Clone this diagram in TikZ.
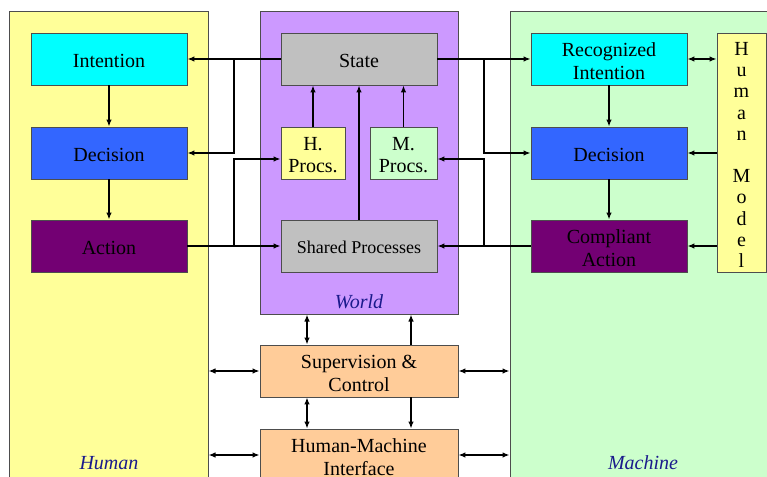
\documentclass[tikz,border=0pt]{standalone}
\usepackage{fontspec}
\setmainfont{Liberation Serif}
\usetikzlibrary{arrows.meta}
\definecolor{panelY}{HTML}{FFFF99}
\definecolor{panelV}{HTML}{CC99FF}
\definecolor{panelG}{HTML}{CCFFCC}
\definecolor{cyanB}{HTML}{00FFFF}
\definecolor{blueB}{HTML}{3366FF}
\definecolor{purpB}{HTML}{730073}
\definecolor{grayB}{HTML}{C0C0C0}
\definecolor{peachB}{HTML}{FFCC99}
\definecolor{labelC}{HTML}{1A1A8C}
\definecolor{edgeC}{HTML}{4D4D4D}
\tikzset{
  panel/.style={draw=edgeC, line width=1bp, inner sep=0pt},
  blk/.style={draw=edgeC, line width=0.9bp, inner sep=0pt, minimum width=156bp,
    minimum height=52bp, align=center, text depth=0bp, text height=18bp,
    font=\fontsize{20bp}{23.5bp}\selectfont},
  twoline/.style={text height=41.5bp},
  plabel/.style={text=labelC, font=\fontsize{20bp}{24bp}\selectfont\itshape},
  conn/.style={line width=1.3bp, -{Latex[length=7bp,width=5.5bp]}},
  bconn/.style={line width=1.3bp, {Latex[length=7bp,width=5.5bp]}-{Latex[length=7bp,width=5.5bp]}}
}
\begin{document}
\begin{tikzpicture}[x=1bp,y=-1bp]
\useasboundingbox (0,0) rectangle (767,477);
\fill[white] (0,0) rectangle (767,477);

% three panels
\node[panel, fill=panelY, minimum width=198bp, minimum height=473bp] (human) at (109,248.5) {};
\node[panel, fill=panelV, minimum width=198bp, minimum height=302bp] (world) at (359,163) {};
\node[panel, fill=panelG, minimum width=265bp, minimum height=473bp] (machine) at (642.5,248.5) {};

\node[plabel] (humanlbl) at (109,463) {Human};
\node[plabel] (worldlbl) at (359,302) {World};
\node[plabel] (machinelbl) at (643,463) {Machine};

% human side
\node[blk, fill=cyanB] (hint) at (109,59) {Intention};
\node[blk, fill=blueB] (hdec) at (109,153) {Decision};
\node[blk, fill=purpB] (hact) at (109,246) {Action};

% world
\node[blk, fill=grayB] (state) at (359,59) {State};
\node[blk, fill=panelY, minimum width=64bp, text height=40bp,
  font=\fontsize{20bp}{22bp}\selectfont] (hproc) at (313,153) {H.\\Procs.};
\node[blk, fill=panelG, minimum width=67bp, text height=40bp,
  font=\fontsize{20bp}{22bp}\selectfont] (mproc) at (403.5,153) {M.\\Procs.};
\node[blk, fill=grayB, text height=16bp, font=\fontsize{18bp}{22bp}\selectfont] (shared) at (359,246) {Shared Processes};

% machine side
\node[blk, twoline, fill=cyanB] (mint) at (609,59) {Recognized\\Intention};
\node[blk, fill=blueB] (mdec) at (609,153) {Decision};
\node[blk, twoline, fill=purpB] (mact) at (609,246) {Compliant\\Action};
\node[blk, fill=panelY, minimum width=49bp, minimum height=239bp, text height=230bp,
  font=\fontsize{20bp}{21.2bp}\selectfont] (hmodel) at (741.5,152.5)
  {H\\u\\m\\a\\n\\[21.2bp]M\\o\\d\\e\\l};

% lower blocks
\node[blk, twoline, fill=peachB, minimum width=198bp] (sup) at (359,371) {Supervision \&\\Control};
\node[blk, twoline, fill=peachB, minimum width=198bp] (hmi) at (359,455) {Human-Machine\\Interface};

% junction points
\coordinate (jl1) at (234,59);
\coordinate (jl2) at (234,246);
\coordinate (jr1) at (484,59);
\coordinate (jr2) at (484,246);

% state feeds both intention blocks and decisions
\draw[conn] (state.west) -- (hint.east);
\draw[conn] (jl1) |- (hdec.east);
\draw[conn] (state.east) -- (mint.west);
\draw[conn] (jr1) |- (mdec.west);

% actions drive the processes
\draw[conn] (hact.east) -- (shared.west);
\draw[conn] (jl2) |- ([yshift=-6bp]hproc.west);
\draw[conn] (mact.west) -- (shared.east);
\draw[conn] (jr2) |- ([yshift=-6bp]mproc.east);

% processes update the state
\draw[conn] (hproc.north) -- (hproc.north |- state.south);
\draw[conn] (mproc.north) -- (mproc.north |- state.south);
\draw[conn] (shared.north) -- (state.south);

% chains inside human and machine
\draw[conn] (hint.south) -- (hdec.north);
\draw[conn] (hdec.south) -- (hact.north);
\draw[conn] (mint.south) -- (mdec.north);
\draw[conn] (mdec.south) -- (mact.north);

% human model links
\draw[bconn] (mint.east) -- (mint.east -| hmodel.west);
\draw[conn] (mdec.east -| hmodel.west) -- (mdec.east);
\draw[conn] (mact.east -| hmodel.west) -- (mact.east);

% supervision and interface
\draw[bconn] ([xshift=-52bp]sup.north) -- ([xshift=-52bp]sup.north |- world.south);
\draw[conn] ([xshift=52bp]sup.north) -- ([xshift=52bp]sup.north |- world.south);
\draw[bconn] ([xshift=-52bp]sup.south) -- ([xshift=-52bp]sup.south |- hmi.north);
\draw[conn] ([xshift=52bp]sup.south) -- ([xshift=52bp]sup.south |- hmi.north);
\draw[bconn] (sup.west -| human.east) -- (sup.west);
\draw[bconn] (sup.east) -- (sup.east -| machine.west);
\draw[bconn] (hmi.west -| human.east) -- (hmi.west);
\draw[bconn] (hmi.east) -- (hmi.east -| machine.west);
\end{tikzpicture}
\end{document}
